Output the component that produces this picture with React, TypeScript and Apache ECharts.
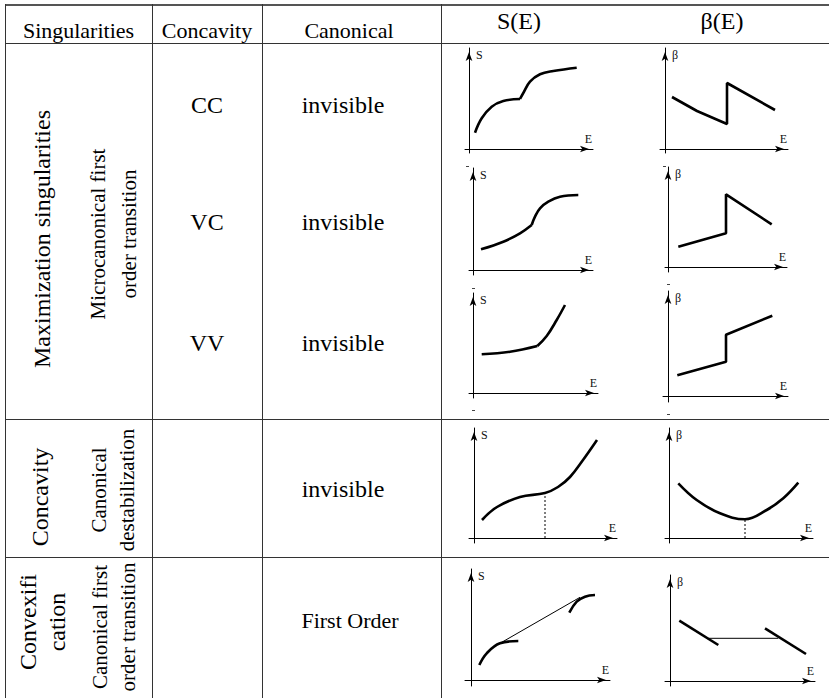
import React, { useEffect, useRef } from "react";
import * as echarts from "echarts";

// ---------- text content ----------
const headerLabels = ["Singularities", "Concavity", "Canonical", "S(E)", "β(E)"];
const singularityLabels = ["Maximization singularities", "Concavity", "Convexifi\ncation"];
const transitionLabels = [
  "Microcanonical first\norder transition",
  "Canonical\ndestabilization",
  "Canonical first\norder transition",
];
const concavityLabels = ["CC", "VC", "VV"];
const canonicalLabels = ["invisible", "invisible", "invisible", "invisible", "First Order"];
const yAxisNames = ["S", "β"];
const xAxisName = "E";

// ---------- curve data: [E, value] in arbitrary units ----------
// CC
const sCC1 = [[0.6, 1.63], [1.27, 3.07], [2.27, 4.23], [3.43, 4.8], [5.1, 5.0]];
const sCC2 = [[5.1, 5.0], [5.43, 5.6], [6.1, 6.73], [7.1, 7.47], [8.43, 7.8], [10.77, 8.13]];
const bCC1 = [[0.7, 5.2], [3.2, 3.8], [6.2, 2.5], [6.2, 6.6], [11.0, 3.9]];
// VC
const sVC1 = [[0.8, 2.07], [3.03, 2.83], [4.7, 3.67], [5.87, 4.5]];
const sVC2 = [[5.87, 4.5], [6.2, 5.33], [6.7, 6.17], [7.53, 6.83], [8.7, 7.33], [10.53, 7.5]];
const bVC1 = [[1.03, 2.03], [5.8, 3.37], [5.8, 7.27], [10.37, 4.27]];
// VV
const sVV1 = [[0.87, 3.87], [3.7, 4.13], [6.43, 4.7]];
const sVV2 = [[6.43, 4.7], [7.37, 5.7], [8.37, 7.3], [9.2, 8.8]];
const bVV1 = [[0.93, 2.07], [5.8, 3.43], [5.8, 6.13], [10.43, 8.03]];
// Canonical destabilization
const sCD = [[0.8, 1.8], [2.3, 3.1], [4.6, 4.1], [7.1, 4.5], [8.4, 5.1], [9.6, 6.1], [10.9, 7.8], [12.3, 9.8]];
const sCDMark = [[7.1, 0], [7.1, 4.5]];
const bCD = [[0.93, 5.47], [2.77, 3.8], [5.1, 2.47], [7.6, 1.87], [9.77, 2.8], [11.43, 3.97], [12.93, 5.53]];
const bCDMark = [[7.6, 0], [7.6, 1.87]];
// Canonical first order transition
const sFO1 = [[0.83, 1.5], [1.57, 2.67], [2.9, 3.67], [4.73, 3.9]];
const sFO2 = [[9.83, 6.73], [10.57, 7.83], [11.4, 8.33], [12.4, 8.5]];
const sFOTangent = [[2.9, 3.67], [10.9, 8.27]];
const bFO1 = [[0.93, 6.03], [4.83, 3.6]];
const bFO2 = [[9.5, 5.27], [13.6, 2.7]];
const bFOMaxwell = [[3.83, 4.27], [10.83, 4.27]];

// ---------- layout ----------
const FONT = "Liberation Serif";

type LineSpec = { d: number[][]; kind: "thick" | "thin" | "dotted"; smooth?: number };
type PlotSpec = { box: number[]; x: number[]; y: number[]; yName: number; lines: LineSpec[] };

const plots: PlotSpec[] = [
  { box: [465, 48, 128, 105], x: [-0.4, 12.4], y: [-0.4, 10.1], yName: 0,
    lines: [{ d: sCC1, kind: "thick", smooth: 0.4 }, { d: sCC2, kind: "thick", smooth: 0.4 }] },
  { box: [660, 48, 128, 105], x: [-0.5, 12.3], y: [-0.4, 10.1], yName: 1,
    lines: [{ d: bCC1, kind: "thick" }] },
  { box: [469, 168, 124, 107], x: [-0.4, 12.0], y: [-0.5, 10.2], yName: 0,
    lines: [{ d: sVC1, kind: "thick", smooth: 0.4 }, { d: sVC2, kind: "thick", smooth: 0.4 }] },
  { box: [665, 167, 122, 105], x: [-0.3, 11.9], y: [-0.5, 10.0], yName: 1,
    lines: [{ d: bVC1, kind: "thick" }] },
  { box: [469, 293, 129, 105], x: [-0.4, 12.5], y: [-0.5, 10.0], yName: 0,
    lines: [{ d: sVV1, kind: "thick", smooth: 0.4 }, { d: sVV2, kind: "thick", smooth: 0.4 }] },
  { box: [663, 291, 125, 111], x: [-0.5, 12.0], y: [-0.6, 10.5], yName: 1,
    lines: [{ d: bVV1, kind: "thick" }] },
  { box: [469, 428, 148, 115], x: [-0.5, 14.3], y: [-0.5, 11.0], yName: 0,
    lines: [{ d: sCD, kind: "thick", smooth: 0.4 }, { d: sCDMark, kind: "dotted" }] },
  { box: [665, 428, 148, 115], x: [-0.4, 14.4], y: [-0.5, 11.0], yName: 1,
    lines: [{ d: bCD, kind: "thick", smooth: 0.4 }, { d: bCDMark, kind: "dotted" }] },
  { box: [465, 569, 145, 117], x: [-0.6, 13.9], y: [-0.6, 11.1], yName: 0,
    lines: [
      { d: sFO1, kind: "thick", smooth: 0.4 },
      { d: sFO2, kind: "thick", smooth: 0.4 },
      { d: sFOTangent, kind: "thin" },
    ] },
  { box: [665, 575, 150, 111], x: [-0.5, 14.5], y: [-0.5, 10.6], yName: 1,
    lines: [{ d: bFO1, kind: "thick" }, { d: bFO2, kind: "thick" }, { d: bFOMaxwell, kind: "thin" }] },
];

function buildOption() {
  const grid: any[] = [];
  const xAxis: any[] = [];
  const yAxis: any[] = [];
  const series: any[] = [];

  plots.forEach((p, i) => {
    grid.push({
      left: p.box[0], top: p.box[1], width: p.box[2], height: p.box[3],
      containLabel: false, outerBoundsMode: "none",
    });
    const axisLine = {
      onZero: true,
      symbol: ["none", "arrow"],
      symbolSize: [5, 9],
      symbolOffset: [0, -4],
      lineStyle: { color: "#000", width: 1 },
    };
    xAxis.push({
      gridIndex: i, type: "value", min: p.x[0], max: p.x[1],
      axisLine, axisTick: { show: false }, axisLabel: { show: false }, splitLine: { show: false },
      name: xAxisName, nameLocation: "end", nameGap: 0,
      nameTextStyle: { align: "right", verticalAlign: "bottom", padding: [0, 1, 4, 0], fontFamily: FONT, fontSize: 12, color: "#111" },
    });
    yAxis.push({
      gridIndex: i, type: "value", min: p.y[0], max: p.y[1],
      axisLine, axisTick: { show: false }, axisLabel: { show: false }, splitLine: { show: false },
      name: yAxisNames[p.yName], nameLocation: "end", nameGap: -1,
      nameTextStyle: { align: "left", verticalAlign: "top", padding: [0, 0, 0, 7], fontFamily: FONT, fontSize: 12, color: "#111" },
    });
    p.lines.forEach((l) => {
      series.push({
        type: "line", xAxisIndex: i, yAxisIndex: i, data: l.d,
        showSymbol: false, symbol: "none", silent: true,
        smooth: l.smooth || false,
        lineStyle: {
          color: "#000",
          width: l.kind === "thick" ? 2.6 : 1,
          type: l.kind === "dotted" ? [2, 2] : "solid",
        },
        z: 3,
      });
    });
  });

  const graphic: any[] = [];
  const stroke = "#333";
  const hLines = [43.5, 419.5, 557.5];
  const vLines = [5.5, 152.5, 262.5, 441.5];
  graphic.push({ type: "line", silent: true, shape: { x1: 5, y1: 5, x2: 829, y2: 5 }, style: { stroke: "#555", lineWidth: 2 } });
  hLines.forEach((y) =>
    graphic.push({ type: "line", silent: true, shape: { x1: 5, y1: y, x2: 829, y2: y }, style: { stroke, lineWidth: 1 } })
  );
  vLines.forEach((x) =>
    graphic.push({ type: "line", silent: true, shape: { x1: x, y1: 4, x2: x, y2: 698 }, style: { stroke, lineWidth: 1 } })
  );
  // tiny stray marks present in the original scan
  const marks = [[466, 166], [663, 166], [472, 288], [667, 284], [472, 410], [667, 414]];
  marks.forEach(([x, y]) =>
    graphic.push({ type: "line", silent: true, shape: { x1: x, y1: y + 0.5, x2: x + 3, y2: y + 0.5 }, style: { stroke: "#444", lineWidth: 1 } })
  );

  const txt = (x: number, y: number, text: string, size: number, rot = 0, lh?: number) => ({
    type: "text", x, y, rotation: rot, silent: true,
    style: {
      text, fontSize: size, fontFamily: FONT, fill: "#000",
      align: "center", verticalAlign: "middle", lineHeight: lh || size * 1.2,
    },
  });

  // header
  graphic.push(txt(78.5, 30, headerLabels[0], 22));
  graphic.push(txt(207, 30, headerLabels[1], 22));
  graphic.push(txt(349, 30, headerLabels[2], 22));
  graphic.push(txt(519, 21, headerLabels[3], 24));
  graphic.push(txt(722, 21, headerLabels[4], 24));

  const R = Math.PI / 2;
  graphic.push(txt(42, 239, singularityLabels[0], 24, R));
  graphic.push(txt(40, 497, singularityLabels[1], 24, R));
  graphic.push(txt(42, 622, singularityLabels[2], 24, R, 29));
  graphic.push(txt(113, 234, transitionLabels[0], 21, R, 31));
  graphic.push(txt(113, 490, transitionLabels[1], 21, R, 28));
  graphic.push(txt(114, 627, transitionLabels[2], 21, R, 28));

  const rowY = [105, 222, 343];
  concavityLabels.forEach((t, k) => graphic.push(txt(207, rowY[k], t, 24)));
  graphic.push(txt(343, 105, canonicalLabels[0], 24));
  graphic.push(txt(343, 222, canonicalLabels[1], 24));
  graphic.push(txt(343, 343, canonicalLabels[2], 24));
  graphic.push(txt(343, 489, canonicalLabels[3], 24));
  graphic.push(txt(350, 620, canonicalLabels[4], 22));

  return {
    animation: false,
    backgroundColor: "#fff",
    textStyle: { fontFamily: FONT },
    grid, xAxis, yAxis, series, graphic,
  };
}

export default function App() {
  const ref = useRef<HTMLDivElement>(null);
  useEffect(() => {
    if (!ref.current) return;
    const chart = echarts.init(ref.current, undefined, { renderer: "svg" });
    chart.setOption(buildOption() as any);
    return () => chart.dispose();
  }, []);
  return (
    <div
      ref={ref}
      style={{ position: "fixed", left: 0, top: 0, width: 829, height: 698, background: "#fff" }}
    />
  );
}
